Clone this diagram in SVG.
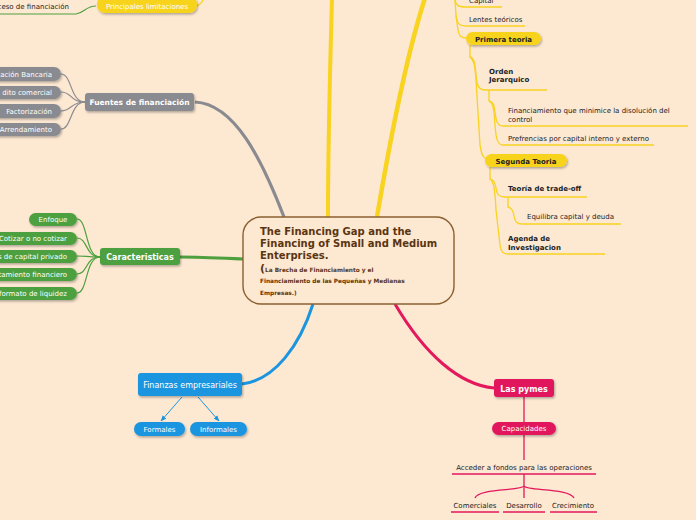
<svg xmlns="http://www.w3.org/2000/svg" width="696" height="520" viewBox="0 0 696 520">
<defs>
<filter id="sh" x="-20%" y="-40%" width="140%" height="180%"><feDropShadow dx="1" dy="1.5" stdDeviation="1" flood-color="#000" flood-opacity="0.3"/></filter>
<marker id="ab" viewBox="0 0 10 10" refX="9" refY="5" markerWidth="6" markerHeight="6" orient="auto"><path d="M0,1 L10,5 L0,9 z" fill="#1b95e0"/></marker>
<style>
text{font-family:"DejaVu Sans","Verdana",sans-serif}
.w{fill:#fff}
.k{fill:#222}
.b{font-weight:bold}
.t7{font-size:7px}
.yl{stroke:#f8d31f;fill:none;stroke-width:1.3}
.gl{stroke:#8a8b90;fill:none;stroke-width:1.2}
.gr{stroke:#4ea03f;fill:none;stroke-width:1.2}
.pk{stroke:#e2195c;fill:none;stroke-width:1.3}
</style>
</defs>
<rect width="696" height="520" fill="#fde8d2"/>
<g id="connectors">
<path d="M284 217 C262 160,235 104,195 102" stroke="#8a8b90" stroke-width="3.2" fill="none"/>
<path d="M328 217 C328 140,330 70,332 -2" stroke="#f8d31f" stroke-width="4" fill="none"/>
<path d="M377 217 C390 140,405 60,425 -2" stroke="#f8d31f" stroke-width="4.5" fill="none"/>
<path d="M243 259 C220 258,200 257,180 257" stroke="#4ea03f" stroke-width="3.2" fill="none"/>
<path d="M313 304 C300 345,275 380,242 384" stroke="#1b95e0" stroke-width="3" fill="none"/>
<path d="M395 304 C425 355,460 385,494 388" stroke="#e2195c" stroke-width="3" fill="none"/>
<path class="gr" d="M0 14 L76 14 C84 13,86 6,96 6"/>
<path class="yl" d="M196 6 C200 5,202 3,204 -2"/>
<path class="gl" d="M85 102 C70 102,72 74,61 74"/>
<path class="gl" d="M85 102 C70 102,72 92,61 92"/>
<path class="gl" d="M85 102 C70 102,72 111,61 111"/>
<path class="gl" d="M85 102 C70 102,72 129,61 129"/>
<path class="gr" d="M100 257 C85 257,88 219,77 219"/>
<path class="gr" d="M100 257 C85 257,88 238,77 238"/>
<path class="gr" d="M100 257 C85 257,88 256,77 256"/>
<path class="gr" d="M100 257 C85 257,88 274,77 274"/>
<path class="gr" d="M100 257 C85 257,88 293,77 293"/>
<path class="yl" d="M455 -5 L455 0 C456 5,458 7,465 7 L502 7"/>
<path class="yl" d="M455 0 L456 15 C457 24,459 26,467 26 L525 26"/>
<path class="yl" d="M456 15 L458 30 C459 36,461 38,467 38"/>
<path class="yl" d="M470 45 L470 57 C474 58,475 62,476 75 C477 86,479 90,485 90 L547 90"/>
<path class="yl" d="M470 57 C474 60,475 65,476 80 L480 145 C481 152,482 157,486 159"/>
<path class="yl" d="M489 90 L489 101 C493 102,494 104,495 112 C496 122,498 126,503 126 L688 126"/>
<path class="yl" d="M489 101 C493 103,494 108,495 125 C496 140,498 145,503 145 L654 145"/>
<path class="yl" d="M490 167 L490 179 C494 180,495 183,496 188 C497 195,499 197,505 197 L587 197"/>
<path class="yl" d="M490 179 C494 182,495 190,496 210 L500 245 C501 252,503 254,508 254 L605 254"/>
<path class="yl" d="M508 197 L508 207 C512 208,513 211,514 216 C515 222,517 224,522 224 L621 224"/>
<path d="M182 397 L161 421" stroke="#1b95e0" stroke-width="1" fill="none" marker-end="url(#ab)"/>
<path d="M198 397 L219 421" stroke="#1b95e0" stroke-width="1" fill="none" marker-end="url(#ab)"/>
<path class="pk" d="M524 397 L524 422"/>
<path class="pk" d="M524 435 L524 460"/>
<path class="pk" d="M452 474 L596 474"/>
<path class="pk" d="M524 474 L524 498"/>
<path class="pk" d="M524 486 C522 491,478 488,475 498"/>
<path class="pk" d="M524 486 C526 491,570 488,574 498"/>
<path class="pk" d="M451 512 L499 512 M503 512 L545 512 M550 512 L597 512"/>
</g>
<g id="central">
<rect x="243" y="217" width="211" height="87" rx="18" fill="#fde8d2" stroke="#8a6030" stroke-width="1.4"/>
<text x="260" y="235" font-size="10" font-weight="bold" fill="#5a3510">The Financing Gap and the</text>
<text x="260" y="247" font-size="10" font-weight="bold" fill="#5a3510">Financing of Small and Medium</text>
<text x="260" y="259" font-size="10" font-weight="bold" fill="#5a3510">Enterprises.</text>
<text x="260" y="272" font-weight="bold" fill="#5a3510"><tspan font-size="11">(</tspan><tspan font-size="5.8">La Brecha de Financiamiento y el</tspan></text>
<text x="260" y="283" font-size="5.8" font-weight="bold" fill="#5a3510">Financiamiento de las Pequeñas y Medianas</text>
<text x="260" y="295" font-size="5.8" font-weight="bold" fill="#5a3510">Empresas.)</text>
</g>
<g id="proceso"><text x="69" y="9" text-anchor="end" class="k t7">ceso de financiación</text></g>
<g id="principales">
<rect x="97" y="-4" width="100" height="17" rx="8" fill="#f8d31f" filter="url(#sh)"/>
<text x="147" y="9" text-anchor="middle" class="w t7">Principales limitaciones</text>
</g>
<g id="fuentes">
<rect x="85" y="93" width="109" height="18" rx="3" fill="#8a8b90" filter="url(#sh)"/>
<text x="139.5" y="105" text-anchor="middle" class="w b" font-size="7.5">Fuentes de financiación</text>
</g>
<g id="bancaria"><rect x="-20" y="67" width="81" height="14" rx="7" fill="#8a8b90" filter="url(#sh)"/><text x="52" y="76.5" text-anchor="end" class="w t7">ación Bancaria</text></g>
<g id="comercial"><rect x="-20" y="86" width="81" height="13" rx="6.5" fill="#8a8b90" filter="url(#sh)"/><text x="52" y="95" text-anchor="end" class="w t7">dito comercial</text></g>
<g id="factorizacion"><rect x="-20" y="104" width="81" height="14" rx="7" fill="#8a8b90" filter="url(#sh)"/><text x="52" y="113.5" text-anchor="end" class="w t7">Factorización</text></g>
<g id="arrendamiento"><rect x="-20" y="123" width="81" height="13" rx="6.5" fill="#8a8b90" filter="url(#sh)"/><text x="52" y="132" text-anchor="end" class="w t7">Arrendamiento</text></g>
<g id="caracteristicas">
<rect x="100" y="248" width="80" height="17" rx="3" fill="#4ea03f" filter="url(#sh)"/>
<text x="140" y="260" text-anchor="middle" class="w b" font-size="8">Caracteristicas</text>
</g>
<g id="enfoque"><rect x="29" y="213" width="48" height="13" rx="6.5" fill="#4ea03f" filter="url(#sh)"/><text x="53" y="222" text-anchor="middle" class="w t7">Enfoque</text></g>
<g id="cotizar"><rect x="-20" y="232" width="97" height="13" rx="6.5" fill="#4ea03f" filter="url(#sh)"/><text x="67" y="241" text-anchor="end" class="w t7">Cotizar o no cotizar</text></g>
<g id="privado"><rect x="-20" y="250" width="97" height="13" rx="6.5" fill="#4ea03f" filter="url(#sh)"/><text x="67" y="259" text-anchor="end" class="w t7">s de capital privado</text></g>
<g id="tratamiento"><rect x="-20" y="268" width="97" height="13" rx="6.5" fill="#4ea03f" filter="url(#sh)"/><text x="67" y="277" text-anchor="end" class="w t7">tamiento financiero</text></g>
<g id="liquidez"><rect x="-20" y="287" width="97" height="13" rx="6.5" fill="#4ea03f" filter="url(#sh)"/><text x="67" y="296" text-anchor="end" class="w t7">formato de liquidez</text></g>
<g id="capital"><text x="469" y="3" class="k t7">Capital</text></g>
<g id="lentes"><text x="469" y="22" class="k t7">Lentes teóricos</text></g>
<g id="primera">
<rect x="466" y="32" width="75" height="13" rx="6.5" fill="#f8d31f" filter="url(#sh)"/>
<text x="503.5" y="41.5" text-anchor="middle" class="k b t7">Primera teoria</text>
</g>
<g id="orden"><text x="489" y="74" class="k b t7">Orden</text><text x="489" y="82" class="k b t7">Jerarquico</text></g>
<g id="minimice"><text x="508" y="113" class="k t7">Financiamiento que minimice la disolución del</text><text x="508" y="122" class="k t7">control</text></g>
<g id="prefrencias"><text x="508" y="141" class="k t7">Prefrencias por capital interno y externo</text></g>
<g id="segunda">
<rect x="485" y="154" width="82" height="13" rx="6.5" fill="#f8d31f" filter="url(#sh)"/>
<text x="526" y="163.5" text-anchor="middle" class="k b t7">Segunda Teoria</text>
</g>
<g id="tradeoff"><text x="508" y="191" class="k b t7">Teoría de trade-off</text></g>
<g id="equilibra"><text x="527" y="219" class="k t7">Equilibra capital y deuda</text></g>
<g id="agenda"><text x="508" y="241" class="k b t7">Agenda de</text><text x="508" y="249.5" class="k b t7">Investigacion</text></g>
<g id="finanzas">
<rect x="138" y="373" width="104" height="23" rx="3" fill="#1b95e0" filter="url(#sh)"/>
<text x="190" y="387.5" text-anchor="middle" class="w" font-size="8">Finanzas empresariales</text>
</g>
<g id="formales"><rect x="134" y="422" width="51" height="14" rx="7" fill="#1b95e0" filter="url(#sh)"/><text x="159.5" y="432" text-anchor="middle" class="w t7">Formales</text></g>
<g id="informales"><rect x="190" y="422" width="57" height="14" rx="7" fill="#1b95e0" filter="url(#sh)"/><text x="218.5" y="432" text-anchor="middle" class="w t7">Informales</text></g>
<g id="pymes">
<rect x="494" y="379" width="60" height="18" rx="3" fill="#e2195c" filter="url(#sh)"/>
<text x="524" y="391.5" text-anchor="middle" class="w b" font-size="8">Las pymes</text>
</g>
<g id="capacidades"><rect x="492" y="422" width="64" height="13" rx="6.5" fill="#e2195c" filter="url(#sh)"/><text x="524" y="431" text-anchor="middle" class="w t7">Capacidades</text></g>
<g id="acceder"><text x="524" y="470" text-anchor="middle" class="k t7">Acceder a fondos para las operaciones</text></g>
<g id="comerciales"><text x="475" y="508" text-anchor="middle" class="k t7">Comerciales</text></g>
<g id="desarrollo"><text x="524" y="508" text-anchor="middle" class="k t7">Desarrollo</text></g>
<g id="crecimiento"><text x="573" y="508" text-anchor="middle" class="k t7">Crecimiento</text></g>
</svg>
